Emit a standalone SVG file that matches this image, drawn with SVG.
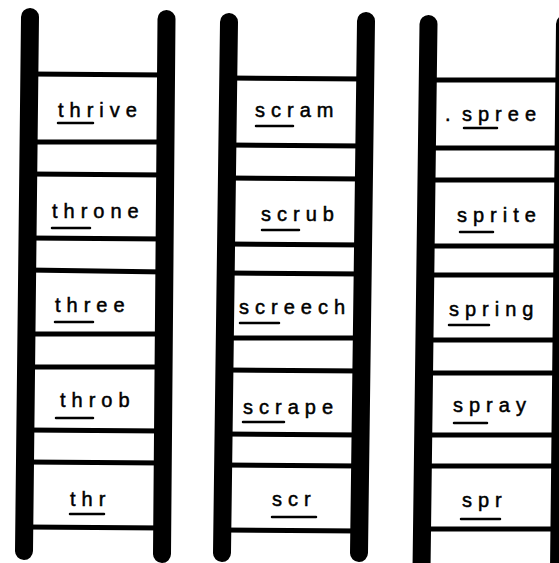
<svg xmlns="http://www.w3.org/2000/svg" width="559" height="563" viewBox="0 0 559 563">
<style>
.rail{stroke:#000;stroke-width:18;stroke-linecap:round;fill:none}
.rung{stroke:#000;stroke-width:5;fill:none}
.w{font-family:"Liberation Sans",Arial,sans-serif;font-size:20px;letter-spacing:6px;fill:#000;stroke:#000;stroke-width:0.5}
.u{stroke:#000;stroke-width:2.5;stroke-linecap:round}
</style>
<rect width="559" height="563" fill="#fff"/>
<g id="ladder-thr">
<line class="rail" x1="30" y1="17" x2="24" y2="551"/>
<line class="rail" x1="166.5" y1="19" x2="162" y2="554"/>
<line class="rung" x1="30" y1="74" x2="166" y2="75"/>
<line class="rung" x1="30" y1="142" x2="166" y2="142"/>
<line class="rung" x1="30" y1="174" x2="166" y2="175"/>
<line class="rung" x1="28" y1="238" x2="166" y2="239"/>
<line class="rung" x1="28" y1="270" x2="166" y2="272"/>
<line class="rung" x1="28" y1="334" x2="165" y2="334"/>
<line class="rung" x1="28" y1="367" x2="165" y2="367"/>
<line class="rung" x1="26" y1="430" x2="164" y2="431"/>
<line class="rung" x1="26" y1="462" x2="164" y2="463"/>
<line class="rung" x1="26" y1="527" x2="164" y2="528"/>
</g>
<g id="ladder-scr">
<line class="rail" x1="229" y1="22" x2="222" y2="553"/>
<line class="rail" x1="366" y1="21" x2="359" y2="553"/>
<line class="rung" x1="229" y1="78" x2="366" y2="79"/>
<line class="rung" x1="229" y1="145" x2="366" y2="146"/>
<line class="rung" x1="228" y1="178" x2="365" y2="179"/>
<line class="rung" x1="228" y1="244" x2="365" y2="245"/>
<line class="rung" x1="227" y1="273" x2="364" y2="274"/>
<line class="rung" x1="227" y1="338" x2="364" y2="338"/>
<line class="rung" x1="226" y1="370" x2="363" y2="371"/>
<line class="rung" x1="225" y1="434" x2="362" y2="435"/>
<line class="rung" x1="224" y1="465" x2="361" y2="466"/>
<line class="rung" x1="223" y1="530" x2="360" y2="531"/>
</g>
<g id="ladder-spr">
<line class="rail" x1="428.5" y1="24" x2="421.5" y2="570"/>
<line class="rail" x1="565" y1="24" x2="559" y2="570"/>
<line class="rung" x1="428" y1="80" x2="560" y2="80"/>
<line class="rung" x1="428" y1="148" x2="560" y2="148"/>
<line class="rung" x1="428" y1="180" x2="560" y2="180"/>
<line class="rung" x1="427" y1="246" x2="560" y2="246"/>
<line class="rung" x1="427" y1="275" x2="560" y2="275"/>
<line class="rung" x1="426" y1="340" x2="560" y2="340"/>
<line class="rung" x1="425" y1="373" x2="560" y2="373"/>
<line class="rung" x1="424" y1="435" x2="560" y2="435"/>
<line class="rung" x1="424" y1="466" x2="560" y2="466"/>
<line class="rung" x1="423" y1="529" x2="560" y2="529"/>
</g>
<g id="w-thrive"><text class="w" x="58" y="117">thrive</text><line class="u" x1="58" y1="123" x2="93" y2="123"/></g>
<g id="w-throne"><text class="w" x="52" y="218">throne</text><line class="u" x1="52" y1="228" x2="90" y2="228"/></g>
<g id="w-three"><text class="w" x="55" y="312">three</text><line class="u" x1="55" y1="322" x2="93" y2="322"/></g>
<g id="w-throb"><text class="w" x="60" y="407">throb</text><line class="u" x1="56" y1="418" x2="93" y2="418"/></g>
<g id="w-thr"><text class="w" x="70" y="506">thr</text><line class="u" x1="70" y1="514" x2="104" y2="514"/></g>
<g id="w-scram"><text class="w" x="255" y="117">scram</text><line class="u" x1="256" y1="126" x2="293" y2="126"/></g>
<g id="w-scrub"><text class="w" x="261" y="221">scrub</text><line class="u" x1="262" y1="230" x2="299" y2="230"/></g>
<g id="w-screech"><text class="w" x="239" y="314">screech</text><line class="u" x1="240" y1="323" x2="279" y2="323"/></g>
<g id="w-scrape"><text class="w" x="243" y="414">scrape</text><line class="u" x1="243" y1="422" x2="284" y2="422"/></g>
<g id="w-scr"><text class="w" x="272" y="506">scr</text><line class="u" x1="272" y1="517" x2="316" y2="517"/></g>
<g id="w-spree"><text class="w" x="445" y="121">.</text><text class="w" x="462" y="121">spree</text><line class="u" x1="464" y1="128" x2="497" y2="128"/></g>
<g id="w-sprite"><text class="w" x="457" y="222">sprite</text><line class="u" x1="460" y1="232" x2="493" y2="232"/></g>
<g id="w-spring"><text class="w" x="449" y="316">spring</text><line class="u" x1="449" y1="325" x2="489" y2="325"/></g>
<g id="w-spray"><text class="w" x="453" y="412">spray</text><line class="u" x1="454" y1="423" x2="487" y2="423"/></g>
<g id="w-spr"><text class="w" x="462" y="507">spr</text><line class="u" x1="461" y1="519" x2="500" y2="519"/></g>
</svg>
